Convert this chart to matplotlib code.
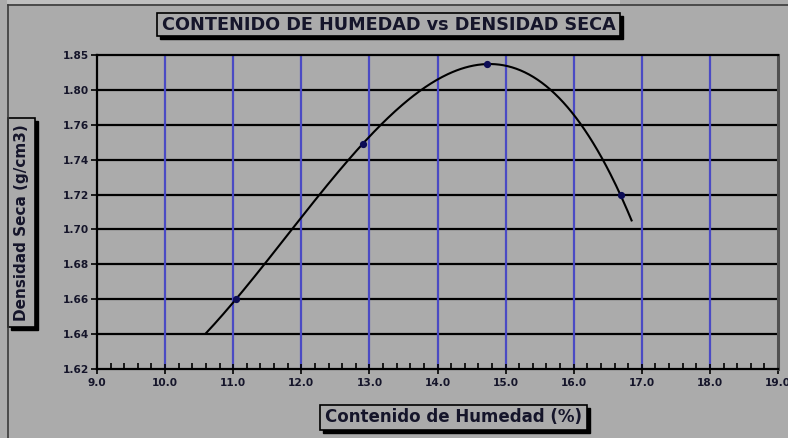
import numpy as np
import matplotlib
matplotlib.use("Agg")
import matplotlib.pyplot as plt
from matplotlib.patches import Rectangle
from matplotlib.lines import Line2D
from matplotlib.ticker import FixedLocator, FixedFormatter, MultipleLocator

# Compaction test results
humedad = [11.04, 12.90, 14.72, 16.69]        # moisture content (%)
densidad = [1.660, 1.749, 1.837, 1.7195]      # dry density (g/cm3)

# Axis ticks
x_ticks = [9.0, 10.0, 11.0, 12.0, 13.0, 14.0, 15.0, 16.0, 17.0, 18.0, 19.0]
y_ticks = [1.62, 1.64, 1.66, 1.68, 1.70, 1.72, 1.74, 1.76, 1.80, 1.85]
y_labels = ["1.62", "1.64", "1.66", "1.68", "1.70", "1.72", "1.74", "1.76", "1.80", "1.85"]

# Extent of the polynomial trendline
trend_x_start, trend_x_end = 10.60, 16.85

titulo = "CONTENIDO DE HUMEDAD vs DENSIDAD SECA"
etiqueta_x = "Contenido de Humedad (%)"
etiqueta_y = "Densidad Seca (g/cm3)"

BG = "#ababab"
TXT = "#15152a"
GRID_BLUE = "#4a4ac4"

W, H = 788, 438
plt.rcParams["font.family"] = ["DejaVu Sans"]
fig = plt.figure(figsize=(W / 100, H / 100), dpi=100, facecolor=BG)

# equally spaced gridlines for the (unevenly valued) density ticks
tick_idx = np.arange(len(y_ticks), dtype=float)


def fwd(v):
    v = np.asarray(v, dtype=float)
    out = np.interp(v, y_ticks, tick_idx)
    lo = v < y_ticks[0]
    hi = v > y_ticks[-1]
    out = np.where(lo, (v - y_ticks[0]) / (y_ticks[1] - y_ticks[0]), out)
    out = np.where(hi, tick_idx[-1] + (v - y_ticks[-1]) / (y_ticks[-1] - y_ticks[-2]), out)
    return out


def inv(u):
    u = np.asarray(u, dtype=float)
    out = np.interp(u, tick_idx, y_ticks)
    lo = u < 0
    hi = u > tick_idx[-1]
    out = np.where(lo, y_ticks[0] + u * (y_ticks[1] - y_ticks[0]), out)
    out = np.where(hi, y_ticks[-1] + (u - tick_idx[-1]) * (y_ticks[-1] - y_ticks[-2]), out)
    return out


def fx(px):
    return px / W


def fy(py):
    return 1 - py / H


ax = fig.add_axes([fx(97), fy(369), fx(778) - fx(97), fy(55) - fy(369)])
ax.set_facecolor(BG)
ax.set_yscale("function", functions=(fwd, inv))
ax.set_xlim(x_ticks[0], x_ticks[-1])
ax.set_ylim(y_ticks[0], y_ticks[-1])

ax.yaxis.set_major_locator(FixedLocator(y_ticks))
ax.yaxis.set_major_formatter(FixedFormatter(y_labels))
ax.yaxis.set_minor_locator(FixedLocator([]))
ax.xaxis.set_major_locator(FixedLocator(x_ticks))
ax.xaxis.set_major_formatter(FixedFormatter([f"{v:.1f}" for v in x_ticks]))
ax.xaxis.set_minor_locator(MultipleLocator(0.2))

# gridlines
for v in y_ticks[1:-1]:
    ax.axhline(v, color="black", lw=1.6, zorder=1)
for v in x_ticks[1:-1]:
    ax.axvline(v, color=GRID_BLUE, lw=1.6, zorder=1)

for s in ("left", "bottom", "top"):
    ax.spines[s].set_color("black")
    ax.spines[s].set_linewidth(1.6)
ax.spines["right"].set_color("#505050")
ax.spines["right"].set_linewidth(2.2)

ax.tick_params(axis="y", which="major", direction="out", length=4, width=1.2,
               color="black", labelsize=7.6, labelcolor=TXT, pad=2)
ax.tick_params(axis="x", which="major", direction="inout", length=7, width=1.2,
               color="black", labelsize=7.6, labelcolor=TXT, pad=3)
ax.tick_params(axis="x", which="minor", direction="in", length=4, width=1.2, color="black")
for lab in ax.get_xticklabels() + ax.get_yticklabels():
    lab.set_fontweight("bold")

# cubic trendline fitted on the evenly spaced density scale
coef = np.polyfit(humedad, fwd(densidad), 3)
xt = np.linspace(trend_x_start, trend_x_end, 300)
ax.plot(xt, inv(np.polyval(coef, xt)), color="black", lw=1.5, zorder=3)

ax.plot(humedad, densidad, ls="none", marker="o", ms=4.2, color="#0c0c55", zorder=4)

# chart-area frame
fig.add_artist(Line2D([fx(8), 1], [fy(5), fy(5)], color="#3a3a3a", lw=1.2))
fig.add_artist(Line2D([fx(8), fx(8)], [fy(5), 0], color="#3a3a3a", lw=1.2))
fig.add_artist(Rectangle((fx(7), fy(4)), fx(620) - fx(7), fy(0) - fy(4),
                         transform=fig.transFigure, color="#bfbfbf", lw=0))


def boxed(x0, y0, x1, y1, text, size, rotation=0, sh=3):
    """Label in a framed box with a drop shadow; box given in pixels from top-left."""
    fig.add_artist(Rectangle((fx(x0 + sh), fy(y1 + sh)), fx(x1) - fx(x0), fy(y0) - fy(y1),
                             transform=fig.transFigure, fc="black", ec="black", lw=1.0))
    fig.add_artist(Rectangle((fx(x0), fy(y1)), fx(x1) - fx(x0), fy(y0) - fy(y1),
                             transform=fig.transFigure, fc=BG, ec="black", lw=1.2))
    fig.text(fx((x0 + x1) / 2), fy((y0 + y1) / 2), text, ha="center", va="center",
             fontsize=size, fontweight="bold", rotation=rotation, color=TXT)


boxed(157, 13, 620, 36, titulo, 12.7)
boxed(320, 405, 587, 430, etiqueta_x, 12.0)
boxed(8, 118, 35, 327, etiqueta_y, 11.0, rotation=90)

fig.savefig("out.png", dpi=100, facecolor=BG)
